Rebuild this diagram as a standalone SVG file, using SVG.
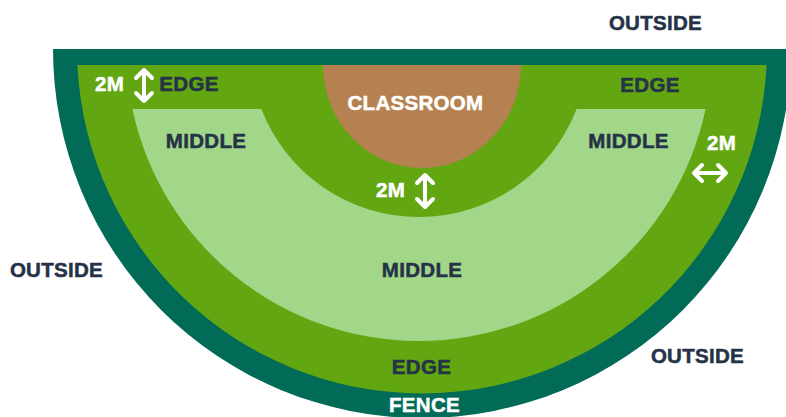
<svg xmlns="http://www.w3.org/2000/svg" width="786" height="417" viewBox="0 0 786 417">
<style>
.lbl{font-family:"Liberation Sans",Arial,sans-serif;font-weight:700;font-size:20.5px;text-anchor:middle;fill:#253247;stroke:#253247;stroke-width:0.5px;letter-spacing:0.3px}
.wht{fill:#ffffff;stroke:#ffffff}
.arr{fill:none;stroke:#ffffff;stroke-width:4;stroke-linecap:round;stroke-linejoin:round}
</style>
<rect width="786" height="417" fill="#ffffff"/>
<g id="fence">
<path d="M53,49 A369,369 0 0 0 791,49 Z" fill="#016b58"/>
<text class="lbl wht" x="424.5" y="412">FENCE</text>
</g>
<g id="edge">
<path d="M77.4,65 A345,345 0 0 0 766.6,65 Z" fill="#62a611"/>
<text class="lbl" x="189" y="91">EDGE</text>
<text class="lbl" x="650" y="92">EDGE</text>
<text class="lbl" x="421.5" y="374">EDGE</text>
</g>
<g id="middle">
<path d="M132.4,109 A293,293 0 0 0 705.6,109 L576.6,109 A169,169 0 0 1 261.4,109 Z" fill="#a2d688"/>
<text class="lbl" x="206" y="148">MIDDLE</text>
<text class="lbl" x="628.5" y="148">MIDDLE</text>
<text class="lbl" x="422" y="277">MIDDLE</text>
</g>
<g id="classroom">
<path d="M323,65 A99,103 0 0 0 521,65 Z" fill="#b58150"/>
<text class="lbl wht" x="415.5" y="110">CLASSROOM</text>
</g>
<g id="outside">
<text class="lbl" x="655.5" y="30">OUTSIDE</text>
<text class="lbl" x="56.5" y="277">OUTSIDE</text>
<text class="lbl" x="697.5" y="363">OUTSIDE</text>
</g>
<g id="distances">
<text class="lbl wht" x="109.5" y="91">2M</text>
<text class="lbl wht" x="390.5" y="197">2M</text>
<text class="lbl wht" x="721.5" y="150">2M</text>
</g>
<g id="connectors">
<path class="arr" d="M144,70 V101 M136,78 L144,70 L152,78 M136,93 L144,101 L152,93"/>
<path class="arr" d="M425,175 V207 M417,183 L425,175 L433,183 M417,199 L425,207 L433,199"/>
<path class="arr" d="M694,173 H726 M702,165 L694,173 L702,181 M718,165 L726,173 L718,181"/>
</g>
</svg>
